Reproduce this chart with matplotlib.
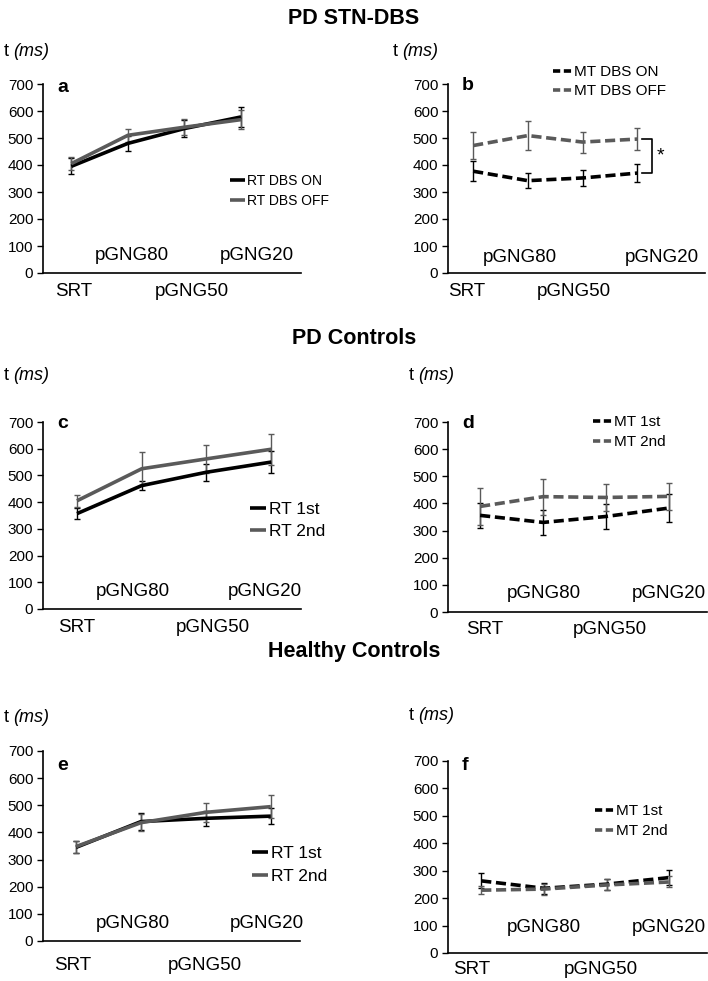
import matplotlib
matplotlib.use("Agg")
import matplotlib.pyplot as plt
from matplotlib.lines import Line2D

plt.rcParams['font.family'] = ['Liberation Sans', 'DejaVu Sans']

# ---------------- data ----------------
categories = ["SRT", "pGNG80", "pGNG50", "pGNG20"]
yticks = [0, 100, 200, 300, 400, 500, 600, 700]

# a: PD STN-DBS reaction time
rt_dbs_on = [395, 480, 535, 578]
rt_dbs_on_err = [30, 28, 30, 38]
rt_dbs_off = [405, 510, 540, 568]
rt_dbs_off_err = [25, 25, 30, 35]

# b: PD STN-DBS movement time
mt_dbs_on = [377, 342, 352, 370]
mt_dbs_on_err = [38, 27, 30, 32]
mt_dbs_off = [472, 509, 485, 496]
mt_dbs_off_err = [50, 53, 39, 41]

# c: PD controls reaction time
pdc_rt_1st = [357, 462, 512, 550]
pdc_rt_1st_err = [20, 16, 32, 40]
pdc_rt_2nd = [405, 525, 562, 598]
pdc_rt_2nd_err = [22, 62, 52, 58]

# d: PD controls movement time
pdc_mt_1st = [356, 330, 352, 383]
pdc_mt_1st_err = [47, 47, 46, 52]
pdc_mt_2nd = [389, 425, 422, 426]
pdc_mt_2nd_err = [68, 66, 51, 50]

# e: healthy controls reaction time
hc_rt_1st = [345, 440, 452, 460]
hc_rt_1st_err = [22, 30, 28, 30]
hc_rt_2nd = [348, 436, 474, 495]
hc_rt_2nd_err = [22, 32, 36, 43]

# f: healthy controls movement time
hc_mt_1st = [263, 236, 251, 275]
hc_mt_1st_err = [27, 20, 20, 28]
hc_mt_2nd = [229, 233, 248, 259]
hc_mt_2nd_err = [15, 20, 20, 20]

# ---------------- layout ----------------
W, H = 708, 981
fig = plt.figure(figsize=(W / 100, H / 100), dpi=100)

BLACK = "#000000"
GRAY = "#5a5a5a"


def axes_px(left, right, top, bottom):
    return fig.add_axes([left / W, 1 - bottom / H, (right - left) / W, (bottom - top) / H])


panels = [
    dict(letter="a", box=(43, 301, 84, 273), xlim=(-0.5, 4.06), dashed=False, lety=87,
         series=[("RT DBS ON", rt_dbs_on, rt_dbs_on_err, BLACK),
                 ("RT DBS OFF", rt_dbs_off, rt_dbs_off_err, GRAY)],
         leg=dict(x=230, y=174, fs=10, hl=1.1, ls=0.42),
         fr=[0.12, 0.345, 0.577, 0.83], dy=(18, -18)),
    dict(letter="b", box=(448, 705, 84, 273), xlim=(-0.46, 4.24), dashed=True, lety=86,
         series=[("MT DBS ON", mt_dbs_on, mt_dbs_on_err, BLACK),
                 ("MT DBS OFF", mt_dbs_off, mt_dbs_off_err, GRAY)],
         leg=dict(x=553, y=65, fs=11, hl=1.25, ls=0.35),
         fr=[0.074, 0.28, 0.49, 0.833], dy=(16, -18)),
    dict(letter="c", box=(43, 301, 422, 609), xlim=(-0.525, 3.46), dashed=False, lety=424,
         series=[("RT 1st", pdc_rt_1st, pdc_rt_1st_err, BLACK),
                 ("RT 2nd", pdc_rt_2nd, pdc_rt_2nd_err, GRAY)],
         leg=dict(x=250, y=502, fs=12.5, hl=0.95, ls=0.4),
         fr=[0.13, 0.35, 0.66, 0.86], dy=(17, -19)),
    dict(letter="d", box=(448, 707, 422, 612), xlim=(-0.51, 3.6), dashed=True, lety=424,
         series=[("MT 1st", pdc_mt_1st, pdc_mt_1st_err, BLACK),
                 ("MT 2nd", pdc_mt_2nd, pdc_mt_2nd_err, GRAY)],
         leg=dict(x=593, y=415, fs=11, hl=1.25, ls=0.4),
         fr=[0.14, 0.37, 0.625, 0.853], dy=(19, -17)),
    dict(letter="e", box=(43, 300, 751, 941), xlim=(-0.51, 3.45), dashed=False, lety=766,
         series=[("RT 1st", hc_rt_1st, hc_rt_1st_err, BLACK),
                 ("RT 2nd", hc_rt_2nd, hc_rt_2nd_err, GRAY)],
         leg=dict(x=252, y=846, fs=12.5, hl=0.95, ls=0.42),
         fr=[0.116, 0.35, 0.63, 0.87], dy=(18, -24)),
    dict(letter="f", box=(448, 707, 761, 953), xlim=(-0.53, 3.6), dashed=True, lety=766,
         series=[("MT 1st", hc_mt_1st, hc_mt_1st_err, BLACK),
                 ("MT 2nd", hc_mt_2nd, hc_mt_2nd_err, GRAY)],
         leg=dict(x=595, y=804, fs=11, hl=1.25, ls=0.4),
         fr=[0.09, 0.37, 0.59, 0.853], dy=(26, -17)),
]

x = list(range(len(categories)))
axes = {}
for p in panels:
    ax = axes_px(*p["box"])
    axes[p["letter"]] = ax
    handles = []
    for label, vals, errs, col in p["series"]:
        ls = (0, (2.8, 1.3)) if p["dashed"] else "-"
        ax.errorbar(x, vals, yerr=errs, fmt="none", ecolor=col, elinewidth=1.0,
                    capsize=2.5, capthick=1.0, zorder=2)
        ax.plot(x, vals, color=col, lw=2.6, linestyle=ls, label=label,
                solid_capstyle="butt", dash_capstyle="butt", zorder=3)
        hls = (0, (2.0, 1.0)) if p["dashed"] else "-"
        handles.append(Line2D([], [], color=col, lw=2.6, linestyle=hls,
                              solid_capstyle="butt", dash_capstyle="butt", label=label))
    ax.set_xlim(*p["xlim"])
    ax.set_ylim(0, 700)
    ax.set_yticks(yticks)
    ax.set_yticklabels([str(v) for v in yticks], fontsize=11)
    ax.set_xticks([])
    for s in ("top", "right"):
        ax.spines[s].set_visible(False)
    for s in ("left", "bottom"):
        ax.spines[s].set_linewidth(1.2)
    ax.tick_params(axis="y", length=4, width=1, pad=3, direction="out")
    ax.patch.set_alpha(0)

    # panel letter
    left_px = p["box"][0]
    fig.text((left_px + 14) / W, 1 - p["lety"] / H, p["letter"], fontsize=14,
             fontweight="bold", ha="left", va="center")

    # category labels (staggered)
    for i, (cat, fr) in enumerate(zip(categories, p["fr"])):
        dy = p["dy"][0] if i % 2 == 1 else p["dy"][1]
        ax.annotate(cat, xy=(fr, 0), xycoords="axes fraction", xytext=(0, dy),
                    textcoords="offset pixels", ha="center", va="center",
                    fontsize=13.5, annotation_clip=False)

    lg = p["leg"]
    ax.legend(handles=handles, loc="upper left",
              bbox_to_anchor=(lg["x"] / W, 1 - lg["y"] / H),
              bbox_transform=fig.transFigure, frameon=False,
              fontsize=lg["fs"], handlelength=lg["hl"], handletextpad=0.15,
              labelspacing=lg["ls"], borderpad=0, borderaxespad=0)

# significance bracket in panel b
axb = axes["b"]
y_top = mt_dbs_off[-1]
y_bot = mt_dbs_on[-1]
axb.plot([3.09, 3.27, 3.27, 3.09], [y_top, y_top, y_bot, y_bot], color=BLACK,
         lw=1.2, clip_on=False)
axb.text(3.42, (y_top + y_bot) / 2, "*", fontsize=14, ha="center", va="center")

# section titles
for title, ypx in [("PD STN-DBS", 18), ("PD Controls", 338), ("Healthy Controls", 652)]:
    fig.text(354 / W, 1 - ypx / H, title, fontsize=15.5, fontweight="bold",
             ha="center", va="center")

# y axis unit labels
for xpx, ypx in [(4, 52), (393, 52), (4, 375), (409, 375), (4, 718), (409, 715)]:
    fig.text(xpx / W, 1 - ypx / H, "t ", fontsize=13, ha="left", va="center")
    fig.text((xpx + 9) / W, 1 - ypx / H, "(ms)", fontsize=13, style="italic",
             ha="left", va="center")

fig.savefig("out.png", dpi=100)
